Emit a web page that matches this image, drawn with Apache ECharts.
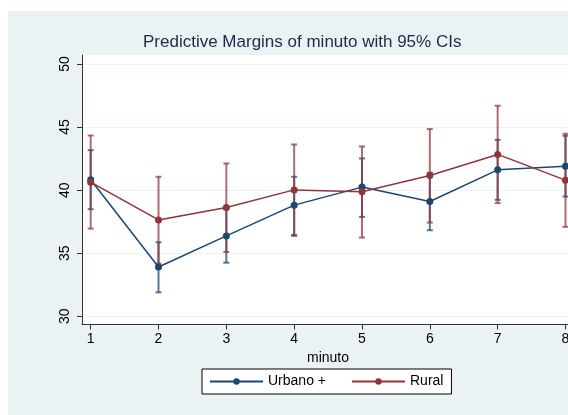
<!DOCTYPE html>
<html>
<head>
<meta charset="utf-8">
<script src="https://cdn.jsdelivr.net/npm/echarts@6/dist/echarts.min.js"></script>
<style>
  html, body { margin: 0; padding: 0; background: #ffffff; }
  #chart { position: absolute; left: 8px; top: 11px; width: 560px; height: 404px; }
</style>
</head>
<body>
<div id="chart"></div>
<script>
// Predictive margins by minute, two groups, with 95% confidence intervals
var minutes = [1, 2, 3, 4, 5, 6, 7, 8];
var yTicks = [30, 35, 40, 45, 50];

var urbanoMargin = [40.82, 33.91, 36.37, 38.81, 40.24, 39.10, 41.61, 41.90];
var urbanoLow    = [38.49, 31.90, 34.25, 36.45, 37.88, 36.82, 39.23, 39.49];
var urbanoHigh   = [43.17, 35.87, 38.49, 41.06, 42.51, 41.38, 43.99, 44.31];

var ruralMargin  = [40.63, 37.64, 38.62, 40.02, 39.87, 41.16, 42.83, 40.79];
var ruralLow     = [36.95, 34.18, 35.10, 36.37, 36.24, 37.43, 38.97, 37.09];
var ruralHigh    = [44.33, 41.06, 42.11, 43.62, 43.46, 44.84, 46.69, 44.47];

var BLUE = '#1a476f';
var RED = '#90353b';

function pairs(xs, ys) {
  return xs.map(function (x, i) { return [x, ys[i]]; });
}
function ciRows(xs, lo, hi) {
  return xs.map(function (x, i) { return [x, lo[i], hi[i]]; });
}

// capped vertical interval drawn through the axis scales
function capRenderer(color) {
  return function (params, api) {
    var x = api.value(0);
    var pLo = api.coord([x, api.value(1)]);
    var pHi = api.coord([x, api.value(2)]);
    var half = 3;
    var style = { stroke: color, lineWidth: 2, opacity: 0.72 };
    return {
      type: 'group',
      children: [
        { type: 'line', shape: { x1: pLo[0], y1: pLo[1], x2: pHi[0], y2: pHi[1] }, style: style },
        { type: 'line', shape: { x1: pLo[0] - half, y1: pLo[1], x2: pLo[0] + half, y2: pLo[1] }, style: style },
        { type: 'line', shape: { x1: pHi[0] - half, y1: pHi[1], x2: pHi[0] + half, y2: pHi[1] }, style: style }
      ]
    };
  };
}

var chart = echarts.init(document.getElementById('chart'), null, { renderer: 'canvas' });

var FONT = 'Liberation Sans, Arial, Helvetica, sans-serif';

chart.setOption({
  backgroundColor: '#eaf2f3',
  animation: false,
  textStyle: { fontFamily: FONT },
  title: {
    text: 'Predictive Margins of minuto with 95% CIs',
    left: 135,
    top: 23,
    padding: 0,
    textStyle: { fontFamily: FONT, fontSize: 17, fontWeight: 'normal', color: '#1c2b4d' }
  },
  legend: {
    data: ['Urbano +', 'Rural'],
    left: 194,
    top: 358,
    padding: [5, 8, 5, 7],
    itemWidth: 53,
    itemHeight: 8,
    itemGap: 25,
    backgroundColor: '#ffffff',
    borderColor: '#000000',
    borderWidth: 1,
    borderRadius: 0,
    textStyle: { fontFamily: FONT, fontSize: 14, color: '#000000', lineHeight: 15 }
  },
  grid: {
    left: 74,
    top: 44,
    right: 0,
    bottom: 90.5,
    containLabel: false,
    outerBoundsMode: 'none',
    show: true,
    backgroundColor: '#ffffff',
    borderWidth: 0
  },
  xAxis: {
    type: 'value',
    min: 0.872,
    max: 8.037,
    name: 'minuto',
    nameLocation: 'middle',
    nameGap: 19,
    nameTextStyle: { fontFamily: FONT, fontSize: 14, color: '#000000', padding: [0, 0, 0, 6] },
    axisLine: { show: true, onZero: false, lineStyle: { color: '#333333', width: 1 } },
    axisTick: { show: true, length: 5, customValues: minutes, lineStyle: { color: '#333333' } },
    axisLabel: { customValues: minutes, margin: 8, fontFamily: FONT, fontSize: 14, color: '#000000' },
    splitLine: { show: false }
  },
  yAxis: {
    type: 'value',
    min: 29.35,
    max: 50.71,
    axisLine: { show: true, onZero: false, lineStyle: { color: '#333333', width: 1 } },
    axisTick: { show: true, length: 5, customValues: yTicks, lineStyle: { color: '#333333' } },
    axisLabel: { customValues: yTicks, rotate: 90, margin: 10, fontFamily: FONT, fontSize: 14, color: '#000000' },
    splitLine: { show: true, lineStyle: { color: '#eaf2f3', width: 1 } }
  },
  series: [
    {
      type: 'custom',
      name: 'Urbano + CI',
      data: ciRows(minutes, urbanoLow, urbanoHigh),
      renderItem: capRenderer(BLUE),
      encode: { x: 0, y: [1, 2] },
      z: 2
    },
    {
      type: 'custom',
      name: 'Rural CI',
      data: ciRows(minutes, ruralLow, ruralHigh),
      renderItem: capRenderer(RED),
      encode: { x: 0, y: [1, 2] },
      z: 2
    },
    {
      type: 'line',
      name: 'Urbano +',
      data: pairs(minutes, urbanoMargin),
      symbol: 'circle',
      symbolSize: 7,
      color: BLUE,
      lineStyle: { color: BLUE, width: 1.5 },
      itemStyle: { color: BLUE },
      z: 3
    },
    {
      type: 'line',
      name: 'Rural',
      data: pairs(minutes, ruralMargin),
      symbol: 'circle',
      symbolSize: 7,
      color: RED,
      lineStyle: { color: RED, width: 1.5 },
      itemStyle: { color: RED },
      z: 3
    }
  ]
});
</script>
</body>
</html>
